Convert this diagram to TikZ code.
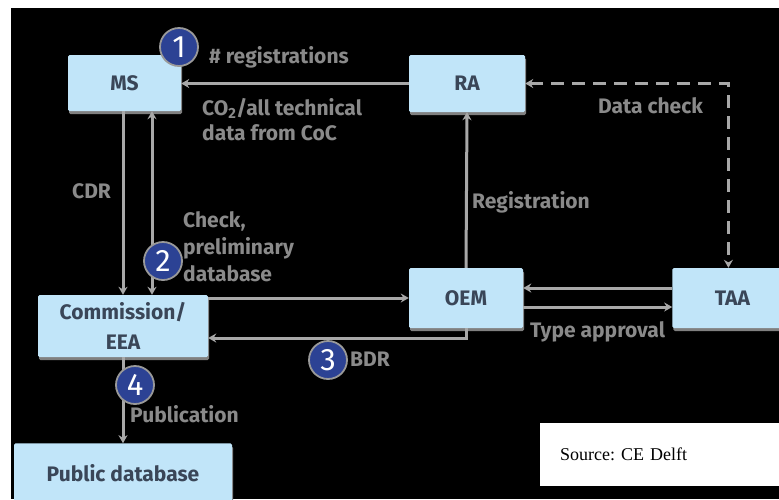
\documentclass[tikz,border=0pt]{standalone}
\usepackage{fontspec}
\setmainfont{Fira Sans}
\newfontfamily\sourcefont{Liberation Serif}
\usepackage{xcolor}
\usetikzlibrary{positioning}
\usetikzlibrary{arrows.meta}
\usetikzlibrary{shadows}

\definecolor{boxblue}{RGB}{193,229,249}
\definecolor{boxtext}{RGB}{58,70,88}
\definecolor{linegray}{RGB}{168,168,168}
\definecolor{labelgray}{RGB}{138,138,138}
\definecolor{dotblue}{RGB}{44,66,148}

\begin{document}
\begin{tikzpicture}[x=1pt, y=-1pt, >={Stealth[length=8pt,width=9pt]}]

        \def\lw{3pt}

        % Styles of the boxes, the numbered dots and the grey labels
        \tikzset{
            box/.style={fill=boxblue, rounded corners=1.5pt, text=boxtext,
                font=\fontsize{21}{30}\selectfont\bfseries, align=center,
                drop shadow={shadow xshift=1pt, shadow yshift=-3pt,
                    fill=gray, opacity=1}},
            dot/.style={circle, fill=dotblue, draw=gray!80, line width=1.8pt,
                minimum size=38pt, inner sep=0pt, text=white,
                font=\fontsize{31}{31}\selectfont},
            lbl/.style={text=labelgray, inner sep=0pt, align=left,
                font=\fontsize{21}{25}\selectfont\bfseries}
        }

        \useasboundingbox (0, 0) rectangle (779, 499);
        \clip (0, 0) rectangle (779, 499);
        \fill[black] (11, 8) rectangle (779, 499);

        % Scope used for the boxes
        \begin{scope}
            \node[box, minimum width=113pt, minimum height=56pt]
            (MS) at (124.5, 83) {MS};
            \node[box, minimum width=116pt, minimum height=57pt]
            (RA) at (467, 83.5) {RA};
            \node[box, minimum width=170pt, minimum height=62pt]
            (Comm) at (123, 326) {Commission/\\EEA};
            \node[box, minimum width=114pt, minimum height=60pt]
            (OEM) at (466, 298) {OEM};
            \node[box, minimum width=120pt, minimum height=60pt]
            (TAA) [right=149pt of OEM] {TAA};
            \node[box, minimum width=218pt, minimum height=60pt]
            (Pub) [below=86pt of Comm] {Public database};
        \end{scope}

        \begin{scope}[draw=linegray, line width=\lw]
            \draw[->] (RA.west) -- (MS.east |- RA.west);
            \draw[->] ([xshift=-1.5pt]MS.south)
                -- ([xshift=-1.5pt]MS.south |- Comm.north);
            \draw[<->] ([xshift=27.5pt]MS.south)
                -- ([xshift=27.5pt]MS.south |- Comm.north);
            \draw[->] (Comm.east |- OEM.west) -- (OEM.west);
            \draw[->] (OEM.south) |- ([yshift=-12pt]Comm.east);
            \draw[->] (OEM.north) -- (RA.south);
            \draw[->] ([yshift=10pt]TAA.west) -- ([yshift=10pt]OEM.east);
            \draw[->] ([yshift=-9pt]OEM.east) -- ([yshift=-9pt]TAA.west);
            \draw[->] (Comm.south) -- (Pub.north);
            \draw[<->, line width=3.4pt, dash pattern=on 13pt off 8pt]
                (RA.east) -| ([xshift=-4pt]TAA.north);
        \end{scope}

        % Grey labels next to the arrows (base = last line)
        \node[lbl, anchor=base west] (Lreg) at (209, 63) {\# registrations};
        \node[lbl, anchor=base west] (Lco) at (202, 140)
        {CO\textsubscript{2}/all technical\\data from CoC};
        \node[lbl, anchor=base west, font=\fontsize{21}{27}\selectfont\bfseries]
        (Lcheck) at (183, 281) {Check,\\preliminary\\database};
        \node[lbl, anchor=base west] (Lcdr) at (72, 198) {CDR};
        \node[lbl, anchor=base west] (Lregi) at (472, 208) {Registration};
        \node[lbl, anchor=base west] (Ldata) at (598, 113) {Data check};
        \node[lbl, anchor=base west] (Ltype) at (530, 337) {Type approval};
        \node[lbl, anchor=base west] (Lbdr) at (350, 366) {BDR};
        \node[lbl, anchor=base west] (Lpub) at (130, 422) {Publication};

        % Numbered steps
        \node[dot] (N1) at (179, 47) {1};
        \node[dot] (N2) at (163, 261) {2};
        \node[dot] (N3) at (328, 360) {3};
        \node[dot] (N4) at (135, 385) {4};

        \node[fill=white, anchor=north west, minimum width=260pt,
            minimum height=63pt, text width=220pt, inner xsep=19pt,
            align=left, font=\sourcefont\fontsize{18}{20}\selectfont]
        (Src) at (540, 423) {Source:\ CE Delft};

\end{tikzpicture}
\end{document}
